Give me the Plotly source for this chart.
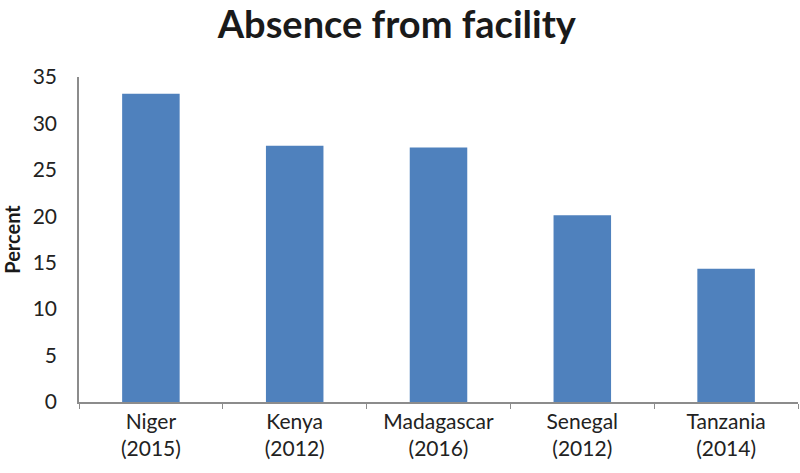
import plotly.graph_objects as go

countries = ["Niger", "Kenya", "Madagascar", "Senegal", "Tanzania"]
years = ["2015", "2012", "2016", "2012", "2014"]
values = [33.2, 27.6, 27.4, 20.1, 14.35]
yticks = [0, 5, 10, 15, 20, 25, 30, 35]

labels = [f"{c}<br>({y})" for c, y in zip(countries, years)]

fig = go.Figure(go.Bar(x=labels, y=values, marker=dict(color="#4F81BD", line=dict(width=0)), width=0.4))

fig.update_layout(
    width=800, height=473,
    margin=dict(l=79, r=2, t=77, b=71),
    paper_bgcolor="white", plot_bgcolor="white",
    font=dict(family="Lato, Open Sans, sans-serif", color="#222222"),
    title=dict(text="<b>Absence from facility</b>", x=0.496, xanchor="center", y=0.948, yanchor="middle",
               font=dict(size=38, color="#1a1a1a")),
    showlegend=False,
    bargap=0.6,
)
fig.update_xaxes(
    automargin=False,
    showline=True, linecolor="#8c8c8c", linewidth=1.5,
    ticks="outside", tickson="boundaries", ticklen=5, tickcolor="#8c8c8c",
    tickfont=dict(size=21, color="#222222"), showgrid=False,
)
fig.update_yaxes(
    automargin=True,
    range=[0, 35], tickvals=yticks, showline=True, linecolor="#8c8c8c", linewidth=1.5,
    ticks="", showgrid=False, zeroline=False, ticklabelstandoff=16,
    tickfont=dict(size=21, color="#222222"),
    title=dict(text="<b>Percent</b>", font=dict(size=20, color="#1a1a1a"), standoff=10),
)
fig.write_html("out.html", config={"displayModeBar": False},
               post_script="document.body.style.margin='0';")
